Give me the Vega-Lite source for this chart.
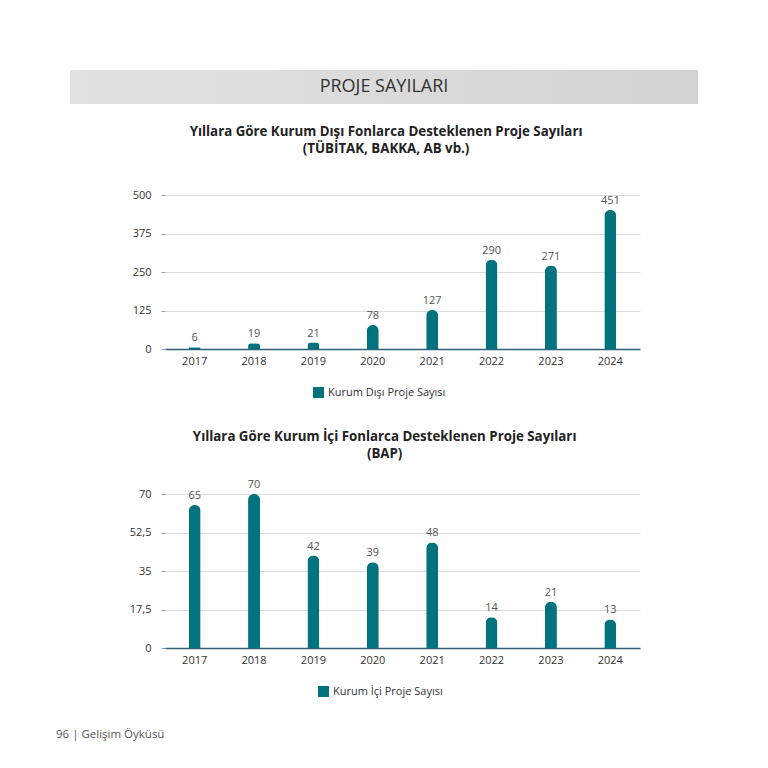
{
  "$schema": "https://vega.github.io/schema/vega-lite/v6.json",
  "padding": {"top": 70, "left": 56, "right": 10, "bottom": 10},
  "background": "white",
  "spacing": 20,
  "center": true,
  "datasets": {
    "outside": [
      {"year": "2017", "count": 6, "series": "Kurum Dışı Proje Sayısı"},
      {"year": "2018", "count": 19, "series": "Kurum Dışı Proje Sayısı"},
      {"year": "2019", "count": 21, "series": "Kurum Dışı Proje Sayısı"},
      {"year": "2020", "count": 78, "series": "Kurum Dışı Proje Sayısı"},
      {"year": "2021", "count": 127, "series": "Kurum Dışı Proje Sayısı"},
      {"year": "2022", "count": 290, "series": "Kurum Dışı Proje Sayısı"},
      {"year": "2023", "count": 271, "series": "Kurum Dışı Proje Sayısı"},
      {"year": "2024", "count": 451, "series": "Kurum Dışı Proje Sayısı"}
    ],
    "inside": [
      {"year": "2017", "count": 65, "series": "Kurum İçi Proje Sayısı"},
      {"year": "2018", "count": 70, "series": "Kurum İçi Proje Sayısı"},
      {"year": "2019", "count": 42, "series": "Kurum İçi Proje Sayısı"},
      {"year": "2020", "count": 39, "series": "Kurum İçi Proje Sayısı"},
      {"year": "2021", "count": 48, "series": "Kurum İçi Proje Sayısı"},
      {"year": "2022", "count": 14, "series": "Kurum İçi Proje Sayısı"},
      {"year": "2023", "count": 21, "series": "Kurum İçi Proje Sayısı"},
      {"year": "2024", "count": 13, "series": "Kurum İçi Proje Sayısı"}
    ]
  },
  "title": {
    "text": "96  |  Gelişim Öyküsü",
    "orient": "bottom",
    "anchor": "start",
    "frame": "bounds",
    "dx": -14,
    "offset": 17,
    "fontSize": 11.5,
    "fontWeight": "normal",
    "color": "#555",
    "font": "Open Sans"
  },
  "config": {
    "font": "Open Sans",
    "view": {"stroke": null},
    "axis": {"labelFont": "Open Sans", "labelFontSize": 11, "labelColor": "#333", "title": null},
    "axisX": {"labelAngle": 0, "ticks": false, "domainColor": "#2f5f75", "domainWidth": 1.5, "labelPadding": 6, "grid": false},
    "axisY": {"domain": false, "tickSize": 4, "tickColor": "#999", "labelPadding": 10, "gridColor": "#dcdcdc", "gridWidth": 1},
    "legend": {"labelFont": "Open Sans", "labelFontSize": 11, "labelColor": "#333", "symbolType": "square", "symbolSize": 120, "symbolStrokeWidth": 0, "title": null, "orient": "none"}
  },
  "resolve": {"scale": {"color": "independent"}, "legend": {"color": "independent"}},
  "vconcat": [
    {
      "width": 665,
      "height": 34,
      "view": {"fill": {"gradient": "linear", "x1": 0, "x2": 1, "y1": 0, "y2": 0, "stops": [{"offset": 0, "color": "#e2e2e2"}, {"offset": 0.944, "color": "#d3d3d3"}, {"offset": 0.9445, "color": "rgba(255,255,255,0)"}, {"offset": 1, "color": "rgba(255,255,255,0)"}]}, "stroke": null},
      "data": {"values": [{"label": "PROJE SAYILARI"}]},
      "mark": {"type": "text", "fontSize": 18, "color": "#333", "baseline": "middle", "dx": -18.5, "font": "Open Sans"},
      "encoding": {"text": {"field": "label"}}
    },
    {
      "width": 475,
      "height": 154,
      "title": {
        "text": ["Yıllara Göre Kurum Dışı Fonlarca Desteklenen Proje Sayıları", "(TÜBİTAK, BAKKA, AB vb.)"],
        "fontSize": 13.3, "fontWeight": "bold", "color": "#222", "lineHeight": 17,
        "anchor": "middle", "frame": "bounds", "offset": 34
      },
      "data": {"name": "outside"},
      "encoding": {
        "x": {"field": "year", "type": "ordinal", "scale": {"paddingInner": 0, "paddingOuter": 0}},
        "y": {"field": "count", "type": "quantitative", "scale": {"domain": [0, 500]}, "axis": {"values": [0, 125, 250, 375, 500], "format": "d"}}
      },
      "layer": [
        {
          "mark": {"type": "bar", "width": 12, "cornerRadiusTopLeft": 6, "cornerRadiusTopRight": 6},
          "encoding": {"color": {"field": "series", "type": "nominal", "scale": {"range": ["#00737e"]}, "legend": {"legendX": 136, "legendY": 180, "padding": 12}}}
        },
        {
          "mark": {"type": "text", "baseline": "bottom", "dy": -4, "fontSize": 11, "color": "#555"},
          "encoding": {"text": {"field": "count"}}
        }
      ]
    },
    {
      "width": 475,
      "height": 154,
      "title": {
        "text": ["Yıllara Göre Kurum İçi Fonlarca Desteklenen Proje Sayıları", "(BAP)"],
        "fontSize": 13.3, "fontWeight": "bold", "color": "#222", "lineHeight": 16.5,
        "anchor": "middle", "frame": "bounds", "offset": 19
      },
      "data": {"name": "inside"},
      "encoding": {
        "x": {"field": "year", "type": "ordinal", "scale": {"paddingInner": 0, "paddingOuter": 0}},
        "y": {"field": "count", "type": "quantitative", "scale": {"domain": [0, 70]}, "axis": {"values": [0, 17.5, 35, 52.5, 70], "format": ".1~f", "labelExpr": "replace(datum.label, '.', ',')"}}
      },
      "layer": [
        {
          "mark": {"type": "bar", "width": 12, "cornerRadiusTopLeft": 6, "cornerRadiusTopRight": 6},
          "encoding": {"color": {"field": "series", "type": "nominal", "scale": {"range": ["#00737e"]}, "legend": {"legendX": 138, "legendY": 177, "padding": 15}}}
        },
        {
          "mark": {"type": "text", "baseline": "bottom", "dy": -4, "fontSize": 11, "color": "#555"},
          "encoding": {"text": {"field": "count"}}
        }
      ]
    }
  ]
}
